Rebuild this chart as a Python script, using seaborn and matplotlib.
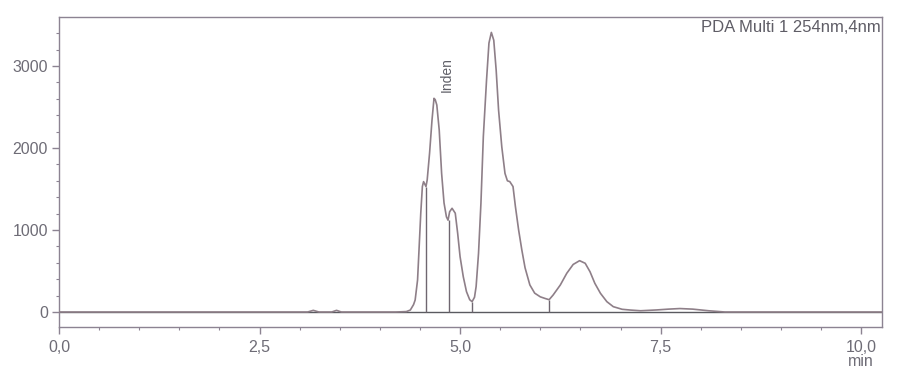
import numpy as np
import pandas as pd
import matplotlib
matplotlib.use("Agg")
import matplotlib.pyplot as plt
import matplotlib.transforms as mtransforms
from matplotlib.ticker import MultipleLocator, FuncFormatter
import seaborn as sns

# ---- data ----
time_min = [0.0, 2.80, 3.10, 3.17, 3.24, 3.40, 3.46, 3.52, 3.70, 4.20, 4.33, 4.38,
            4.42, 4.44, 4.47, 4.49, 4.51, 4.53, 4.545, 4.56, 4.575, 4.59, 4.62,
            4.65, 4.675, 4.69, 4.71, 4.74, 4.77, 4.80, 4.83, 4.85, 4.87, 4.90,
            4.94, 4.97, 5.00, 5.04, 5.08, 5.12, 5.15, 5.18, 5.20, 5.23, 5.26,
            5.29, 5.33, 5.36, 5.39, 5.42, 5.45, 5.48, 5.52, 5.56, 5.59, 5.62,
            5.66, 5.69, 5.73, 5.77, 5.81, 5.87, 5.93, 6.00, 6.06, 6.11, 6.16,
            6.25, 6.33, 6.41, 6.49, 6.56, 6.62, 6.68, 6.75, 6.83, 6.91, 7.02,
            7.12, 7.25, 7.45, 7.60, 7.74, 7.90, 8.10, 8.30, 10.26]
signal = [0, 0, 0, 20, 0, 0, 20, 0, 0, 0, 5, 24,
          90, 146, 390, 796, 1205, 1530, 1590, 1560, 1530, 1610, 1940,
          2340, 2606, 2590, 2525, 2220, 1690, 1330, 1160, 1120, 1223, 1265,
          1205, 960, 675, 430, 248, 150, 126, 180, 310, 715, 1325,
          2140, 2830, 3280, 3410, 3315, 2950, 2463, 2015, 1690, 1600, 1590,
          1530, 1285, 1000, 756, 540, 330, 230, 185, 165, 150, 207,
          330, 472, 580, 626, 594, 491, 350, 228, 126, 65, 33,
          24, 15, 25, 35, 42, 35, 15, 0, 0]

drop_times = [4.58, 4.86, 5.15, 6.11]
drop_heights = [1530, 1120, 126, 150]

peak_label = "Inden"
peak_label_time = 4.84
peak_label_value = 2890

x_ticks = [0.0, 2.5, 5.0, 7.5, 10.0]
y_ticks = [0, 1000, 2000, 3000]
detector_label = "PDA Multi 1 254nm,4nm"
x_unit = "min"

df = pd.DataFrame({"time": time_min, "signal": signal})

sns.set_style("ticks")
plt.rcParams["font.family"] = ["Liberation Sans", "DejaVu Sans"]

fig = plt.figure(figsize=(9.03, 3.77), dpi=100)
ax = fig.add_axes([59 / 903, 1 - 327 / 377, (882 - 59) / 903, (327 - 17) / 377])

trace_color = "#8e7f88"
ax.axhline(0, color="#5a5a60", lw=1.0, zorder=1)
sns.lineplot(data=df, x="time", y="signal", ax=ax, color=trace_color, lw=1.2, zorder=3)
ax.vlines(drop_times, 0, drop_heights, color="#6f6670", lw=1.0, zorder=2)

ax.text(peak_label_time, peak_label_value, peak_label, rotation=90, ha="center",
        va="center", fontsize=10, color="#606068")

ax.set_xlim(0, 10.26)
ax.set_ylim(-183, 3598)
ax.set_xticks(x_ticks)
ax.set_yticks(y_ticks)
ax.xaxis.set_minor_locator(MultipleLocator(0.5))
ax.yaxis.set_minor_locator(MultipleLocator(200))
ax.xaxis.set_major_formatter(FuncFormatter(lambda v, p: f"{v:.1f}".replace(".", ",")))
ax.set_xlabel("")
ax.set_ylabel("")

label_color = "#6e6c76"
spine_color = "#8c8392"
ax.tick_params(axis="both", which="major", labelsize=11.5, colors=spine_color,
               labelcolor=label_color, length=5, width=1)
ax.tick_params(axis="x", which="major", pad=4)
ax.tick_params(axis="y", which="major", pad=3)
ax.tick_params(axis="both", which="minor", length=2.5, width=0.8, colors=spine_color)
for s in ax.spines.values():
    s.set_visible(True)
    s.set_color(spine_color)
    s.set_linewidth(1.0)

ax.text(0.998, 0.99, detector_label, transform=ax.transAxes, ha="right", va="top",
        fontsize=12, color="#5f5d66")

trans = mtransforms.blended_transform_factory(ax.transData, ax.transAxes)
ax.text(10.0, -0.11, x_unit, transform=trans, ha="center", va="center",
        fontsize=11.5, color=label_color)

fig.savefig("out.png", dpi=100, facecolor="white")
